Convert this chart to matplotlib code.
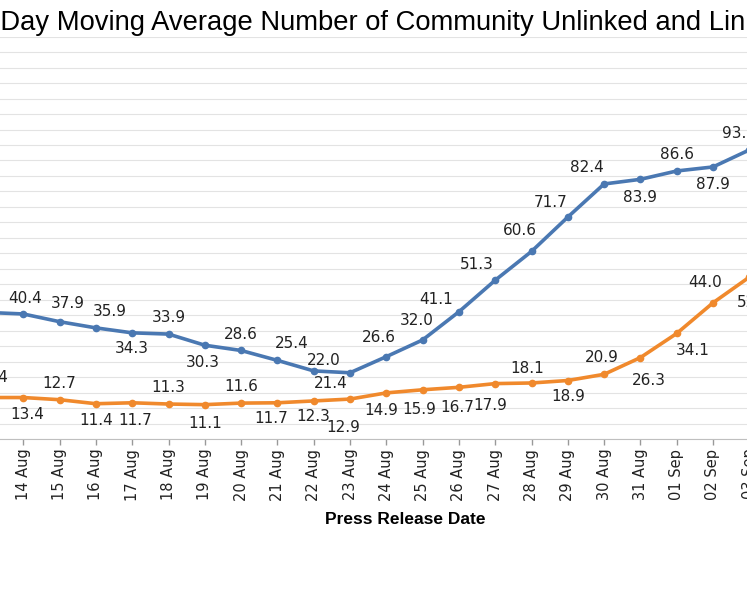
import matplotlib
matplotlib.use("Agg")
import matplotlib.pyplot as plt

# press release dates (13 Aug .. 03 Sep)
dates = ["13 Aug", "14 Aug", "15 Aug", "16 Aug", "17 Aug", "18 Aug", "19 Aug",
         "20 Aug", "21 Aug", "22 Aug", "23 Aug", "24 Aug", "25 Aug", "26 Aug",
         "27 Aug", "28 Aug", "29 Aug", "30 Aug", "31 Aug", "01 Sep", "02 Sep",
         "03 Sep"]

unlinked = [40.9, 40.4, 37.9, 35.9, 34.3, 33.9, 30.3, 28.6, 25.4, 22.0, 21.4,
            26.6, 32.0, 41.1, 51.3, 60.6, 71.7, 82.4, 83.9, 86.6, 87.9, 93.4]
linked = [13.4, 13.4, 12.7, 11.4, 11.7, 11.3, 11.1, 11.6, 11.7, 12.3, 12.9,
          14.9, 15.9, 16.7, 17.9, 18.1, 18.9, 20.9, 26.3, 34.1, 44.0, 52.3]

title = "7-Day Moving Average Number of Community Unlinked and Linked Cases"
xlabel = "Press Release Date"

BLUE = "#4a78b2"
ORANGE = "#f0892c"

# label placement in pixels (dx right, dy down) - hand tuned like the excel chart
blue_off = [(-11, 19), (2, -15), (8, -18), (14, -16), (0, 16), (0, -17),
            (-2, 17), (0, -16), (14, -17), (10, -10), (-19, 11), (-7, -19),
            (-6, -19), (-23, -12), (-18, -16), (-12, -21), (-17, -15),
            (-17, -16), (0, 18), (0, -16), (0, 18), (-10, -16)]
orange_off = [(4, -20), (4, 17), (0, -16), (0, 17), (3, 18), (0, -17),
              (0, 19), (0, -17), (-6, 16), (0, 16), (-7, 28), (-5, 18),
              (-3, 20), (-2, 20), (-5, 22), (-4, -14), (0, 16), (-2, -17),
              (8, 23), (16, 17), (-8, -20), (5, 25)]

W_PX, H_PX = 747, 598
fig = plt.figure(figsize=(W_PX / 100, H_PX / 100), dpi=100)

step = 36.3
left = -13 - 0.5 * step
width = step * len(dates)
zero_y = 439
top_y = zero_y - 130 * 3.095
ax = fig.add_axes([left / W_PX, (H_PX - zero_y) / H_PX,
                   width / W_PX, (zero_y - top_y) / H_PX])

x = list(range(len(dates)))
ax.plot(x, unlinked, color=BLUE, lw=2.6, marker="o", ms=4.5, zorder=3)
ax.plot(x, linked, color=ORANGE, lw=2.6, marker="o", ms=4.5, zorder=3)

px = 72 / 100
for i, v in enumerate(unlinked):
    dx, dy = blue_off[i]
    ax.annotate(f"{v:.1f}", (i, v), xytext=(dx * px, -dy * px),
                textcoords="offset points", ha="center", va="center",
                fontsize=11, color="#222222")
for i, v in enumerate(linked):
    dx, dy = orange_off[i]
    ax.annotate(f"{v:.1f}", (i, v), xytext=(dx * px, -dy * px),
                textcoords="offset points", ha="center", va="center",
                fontsize=11, color="#222222")

ax.set_xlim(-0.5, len(dates) - 0.5)
ax.set_ylim(0, 130)
ax.set_yticks(range(0, 131, 5))
ax.tick_params(axis="y", length=0, labelleft=False)
ax.grid(axis="y", color="#e3e3e3", lw=0.8)
ax.set_axisbelow(True)

ax.set_xticks(x)
ax.set_xticklabels(dates, rotation=90, fontsize=10.5, color="#222222")
ax.tick_params(axis="x", direction="out", length=4, width=1,
               color="#999999", pad=3)

for s in ["left", "right", "top"]:
    ax.spines[s].set_visible(False)
ax.spines["bottom"].set_color("#bfbfbf")

fig.text(-24 / W_PX, (H_PX - 29.5) / H_PX, title, ha="left", va="baseline",
         fontsize=19.7, family=["Liberation Sans", "DejaVu Sans"])
fig.text(405 / W_PX, (H_PX - 519) / H_PX, xlabel, ha="center", va="center",
         fontsize=12.5, fontweight="bold",
         family=["Liberation Sans Narrow", "Liberation Sans", "DejaVu Sans"])

fig.savefig("out.png", dpi=100)
